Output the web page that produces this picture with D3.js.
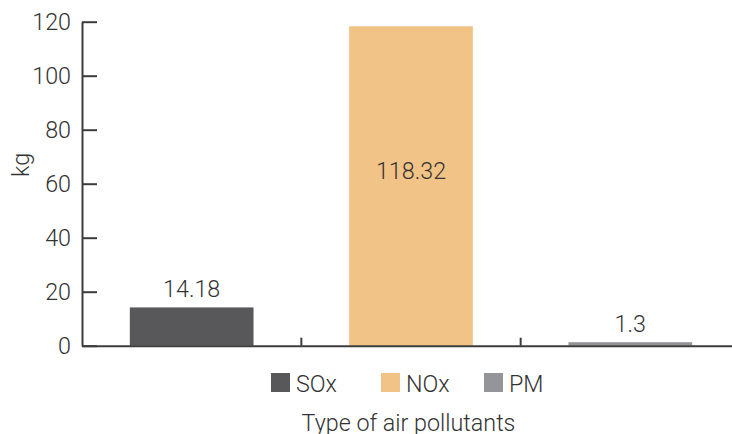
<!DOCTYPE html>
<html>
<head>
<meta charset="utf-8">
<script src="https://cdn.jsdelivr.net/npm/d3@7"></script>
<style>
  html, body { margin: 0; padding: 0; background: #fff; }
  svg text { font-family: Roboto, "Noto Sans", sans-serif; font-weight: 300; fill: #333; }
</style>
</head>
<body>
<svg id="chart" width="732" height="434"></svg>
<script>
// Emission amounts by pollutant type
const categories = ["SOx", "NOx", "PM"];
const values = [14.18, 118.32, 1.3];
const colors = ["#58585a", "#f2c386", "#939598"];
const yTicks = [0, 20, 40, 60, 80, 100, 120];
const yLabel = "kg";
const xLabel = "Type of air pollutants";

const svg = d3.select("#chart");
const axisColor = "#3c3c3c";
const fontSize = 23.3;

const x = d3.scaleBand().domain(categories).range([82, 740]).padding(0);
const y = d3.scaleLinear().domain([0, 120]).range([345.7, 21.7]);
const barFrac = 0.564;

// bars
svg.append("g").selectAll("rect")
  .data(categories)
  .join("rect")
  .attr("x", (d, i) => x(d) + x.bandwidth() * (1 - barFrac) / 2)
  .attr("width", x.bandwidth() * barFrac)
  .attr("y", (d, i) => y(values[i]))
  .attr("height", (d, i) => y(0) - y(values[i]))
  .attr("fill", (d, i) => colors[i]);

// y axis with inward ticks
const yAxis = d3.axisLeft(y).tickValues(yTicks).tickSizeInner(-15).tickSizeOuter(0).tickPadding(11);
const gy = svg.append("g").attr("transform", "translate(82,0)").call(yAxis);
gy.select(".domain").attr("stroke", axisColor).attr("stroke-width", 2);
gy.selectAll(".tick line").attr("stroke", axisColor).attr("stroke-width", 2);
gy.selectAll(".tick text").attr("font-size", fontSize).attr("font-family", null).attr("fill", "#333");

// x axis with category boundary ticks
const xAxis = d3.axisBottom(x).tickValues([]).tickSizeOuter(0);
const gx = svg.append("g").attr("transform", `translate(0,${y(0)})`).call(xAxis);
gx.select(".domain").attr("stroke", axisColor).attr("stroke-width", 2);
gx.selectAll(".sep")
  .data(categories.slice(1))
  .join("line")
  .attr("class", "sep")
  .attr("x1", d => x(d)).attr("x2", d => x(d))
  .attr("y1", 0).attr("y2", -8)
  .attr("stroke", axisColor).attr("stroke-width", 2);

// value labels: above the bar, or inside it when there is no room above
svg.append("g").selectAll("text")
  .data(categories)
  .join("text")
  .attr("x", d => x(d) + x.bandwidth() / 2)
  .attr("y", (d, i) => {
    const top = y(values[i]);
    return top < 60 ? (top + y(0)) / 2 - 7 : top - 10;
  })
  .attr("text-anchor", "middle")
  .attr("font-size", fontSize)
  .text((d, i) => values[i]);

// y axis title
svg.append("text")
  .attr("transform", "translate(29,165) rotate(-90)")
  .attr("text-anchor", "middle")
  .attr("font-size", fontSize)
  .text(yLabel);

// legend
const legendX = [271, 381, 484];
const lg = svg.append("g").selectAll("g")
  .data(categories)
  .join("g")
  .attr("transform", (d, i) => `translate(${legendX[i]},373)`);
lg.append("rect").attr("width", 19).attr("height", 19).attr("fill", (d, i) => colors[i]);
lg.append("text").attr("x", 25).attr("y", 18.5).attr("font-size", fontSize).text(d => d);

// x axis title
svg.append("text")
  .attr("x", 408.5).attr("y", 430.5)
  .attr("text-anchor", "middle")
  .attr("font-size", fontSize)
  .text(xLabel);
</script>
</body>
</html>
